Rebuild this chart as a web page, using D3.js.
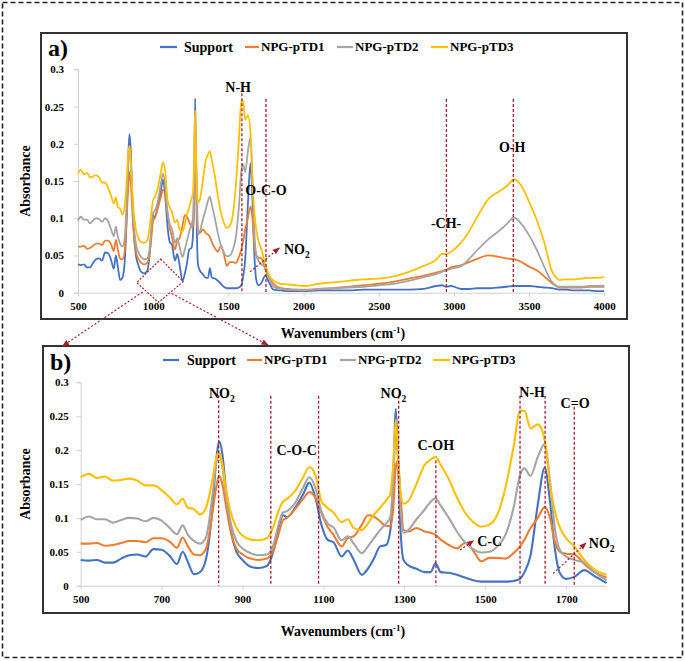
<!DOCTYPE html>
<html><head><meta charset="utf-8">
<script src="https://cdn.jsdelivr.net/npm/d3@7"></script>
<style>
body{margin:0;background:#fff}
text{font-family:"Liberation Serif","Times New Roman",serif;font-weight:bold;fill:#000}
</style>
</head><body>
<svg id="chart" width="685" height="661"></svg>
<script>
// ---------------- DATA ----------------
const wavenumbers=[500,520,540,560,580,600,620,640,660,680,700,720,738,752,765,780,795,810,825,835,842,850,860,870,885,900,920,940,960,975,990,1000,1010,1030,1050,1065,1080,1095,1110,1125,1145,1160,1175,1195,1210,1225,1240,1255,1265,1272,1279,1284,1290,1298,1310,1330,1350,1365,1377,1390,1410,1430,1450,1470,1490,1510,1530,1550,1570,1586,1597,1612,1630,1647,1660,1672,1685,1700,1720,1745,1770,1800,1850,1900,1950,2000,2100,2200,2300,2400,2500,2600,2700,2800,2880,2920,2950,2980,3050,3100,3150,3230,3300,3350,3400,3450,3500,3550,3600,3650,3680,3700,3750,3800,3850,3900,3950,4000];
const support=[0.038,0.037,0.038,0.034,0.034,0.040,0.045,0.046,0.043,0.054,0.053,0.044,0.032,0.050,0.035,0.017,0.020,0.040,0.110,0.185,0.213,0.195,0.135,0.085,0.050,0.038,0.028,0.026,0.029,0.048,0.088,0.104,0.101,0.115,0.135,0.152,0.130,0.090,0.068,0.064,0.043,0.052,0.038,0.016,0.025,0.040,0.058,0.060,0.080,0.140,0.261,0.190,0.090,0.038,0.030,0.025,0.020,0.020,0.033,0.020,0.019,0.016,0.012,0.008,0.006,0.006,0.006,0.006,0.007,0.010,0.020,0.045,0.120,0.174,0.125,0.055,0.018,0.010,0.013,0.023,0.014,0.004,0.003,0.002,0.002,0.002,0.003,0.003,0.003,0.004,0.004,0.004,0.004,0.005,0.009,0.010,0.008,0.009,0.005,0.005,0.006,0.006,0.007,0.008,0.009,0.009,0.009,0.008,0.007,0.006,0.005,0.004,0.004,0.003,0.003,0.003,0.002,0.002];
const npgPTD1=[0.062,0.062,0.063,0.059,0.060,0.063,0.066,0.066,0.064,0.070,0.070,0.065,0.056,0.071,0.058,0.046,0.045,0.055,0.105,0.145,0.162,0.150,0.115,0.082,0.055,0.046,0.040,0.038,0.040,0.050,0.078,0.097,0.100,0.113,0.128,0.138,0.130,0.107,0.087,0.075,0.058,0.070,0.073,0.090,0.104,0.102,0.095,0.088,0.088,0.110,0.175,0.185,0.140,0.082,0.080,0.085,0.080,0.078,0.075,0.068,0.060,0.055,0.063,0.052,0.036,0.041,0.041,0.040,0.048,0.058,0.068,0.085,0.100,0.116,0.100,0.065,0.050,0.047,0.046,0.032,0.020,0.012,0.006,0.005,0.004,0.004,0.005,0.006,0.008,0.010,0.012,0.015,0.019,0.023,0.027,0.029,0.031,0.034,0.037,0.041,0.045,0.050,0.048,0.046,0.045,0.041,0.035,0.030,0.022,0.013,0.009,0.007,0.007,0.007,0.007,0.008,0.008,0.008];
const npgPTD2=[0.097,0.102,0.098,0.098,0.093,0.097,0.100,0.099,0.095,0.100,0.096,0.085,0.076,0.089,0.075,0.066,0.062,0.072,0.130,0.180,0.195,0.175,0.130,0.095,0.066,0.055,0.048,0.045,0.046,0.058,0.092,0.108,0.110,0.122,0.145,0.160,0.145,0.110,0.092,0.086,0.067,0.073,0.062,0.048,0.058,0.070,0.082,0.092,0.100,0.150,0.235,0.200,0.120,0.078,0.082,0.098,0.112,0.124,0.129,0.118,0.100,0.080,0.064,0.054,0.049,0.050,0.058,0.075,0.115,0.163,0.173,0.162,0.190,0.209,0.155,0.085,0.052,0.043,0.038,0.034,0.020,0.008,0.005,0.004,0.004,0.003,0.005,0.006,0.007,0.008,0.010,0.012,0.016,0.021,0.025,0.028,0.030,0.032,0.036,0.045,0.056,0.072,0.083,0.092,0.101,0.092,0.077,0.058,0.035,0.015,0.009,0.008,0.008,0.008,0.008,0.009,0.009,0.009];
const npgPTD3=[0.160,0.165,0.159,0.161,0.155,0.156,0.158,0.155,0.148,0.148,0.141,0.130,0.120,0.128,0.115,0.113,0.105,0.115,0.155,0.188,0.197,0.180,0.140,0.110,0.085,0.074,0.068,0.067,0.070,0.085,0.112,0.124,0.128,0.140,0.160,0.175,0.163,0.125,0.115,0.108,0.094,0.098,0.085,0.082,0.092,0.105,0.115,0.126,0.135,0.175,0.245,0.190,0.140,0.121,0.125,0.150,0.178,0.186,0.190,0.178,0.157,0.130,0.108,0.094,0.087,0.090,0.105,0.145,0.205,0.258,0.258,0.232,0.238,0.215,0.150,0.110,0.085,0.070,0.058,0.038,0.024,0.016,0.012,0.011,0.010,0.009,0.012,0.014,0.016,0.018,0.019,0.022,0.028,0.036,0.044,0.052,0.052,0.055,0.068,0.082,0.100,0.126,0.136,0.143,0.152,0.143,0.122,0.098,0.068,0.030,0.020,0.017,0.018,0.018,0.019,0.020,0.020,0.021];

const seriesNames=["Support","NPG-pTD1","NPG-pTD2","NPG-pTD3"];
const seriesValues=[support,npgPTD1,npgPTD2,npgPTD3];
const seriesColors=["#4472C4","#ED7D31","#A5A5A5","#FFC000"];

const yTicks=[0,0.05,0.1,0.15,0.2,0.25,0.3];
const yTickLabels=["0","0.05","0.1","0.15","0.2","0.25","0.3"];
const xTicksA=[500,1000,1500,2000,2500,3000,3500,4000];
const xTicksB=[500,700,900,1100,1300,1500,1700];

// reference lines (wavenumber, top absorbance)
const refLinesA=[[1590,0.268],[1750,0.26],[2950,0.26],[3395,0.26]];
const refLinesB=[[841,0.281],[970,0.28],[1088,0.28],[1286,0.28],[1378,0.185],[1586,0.28],[1648,0.28],[1720,0.264]];
// labels (text, wavenumber, absorbance, anchor)
const labelsA=[["N-H",1565,0.276,"middle"],["O-C-O",1750,0.138,"middle"],["-CH-",2948,0.093,"middle"],["O-H",3387,0.196,"middle"],["NO2",1870,0.059,"start"]];
const labelsB=[["NO2",849,0.284,"middle"],["C-O-C",1034,0.200,"middle"],["NO2",1273,0.284,"middle"],["C-OH",1378,0.2075,"middle"],["N-H",1616,0.286,"middle"],["C=O",1722,0.270,"middle"],["C-C",1480,0.066,"start"],["NO2",1756,0.063,"start"]];
const arrowsA=[[1644,0.028,1839,0.060]];
const arrowsB=[[1438,0.0527,1471,0.0664],[1668,0.018,1749,0.063]];
// zoom window drawn on panel a (wavenumber, absorbance)
const zoomDiamond=[[1050,0.045],[1200,0.015],[1035,-0.013],[890,0.0135]];

// ---------------- DRAW ----------------
const svg=d3.select("#chart");
const red="#a3202b";
const defs=svg.append("defs");
defs.append("marker").attr("id","ah").attr("viewBox","0 0 10 10").attr("refX",9).attr("refY",5)
  .attr("markerWidth",6).attr("markerHeight",6).attr("orient","auto")
  .append("path").attr("d","M0,1 L10,5 L0,9 z").attr("fill",red);

svg.append("rect").attr("x",2.5).attr("y",2.5).attr("width",680).attr("height",655)
  .attr("fill","none").attr("stroke","#222").attr("stroke-width",1.6).attr("stroke-dasharray","5,3");

function addNO2(sel,size){
  sel.text("NO");
  sel.append("tspan").attr("font-size",size*0.68).attr("dy",4).text("2");
}

function panel(cfg){
  const g=svg.append("g");
  g.append("rect").attr("x",cfg.box[0]).attr("y",cfg.box[1]).attr("width",cfg.box[2]-cfg.box[0]).attr("height",cfg.box[3]-cfg.box[1])
    .attr("fill","#fff").attr("stroke","#333").attr("stroke-width",2);
  const x=d3.scaleLinear().domain(cfg.xDomain).range(cfg.xRange);
  const y=d3.scaleLinear().domain([0,0.3]).range(cfg.yRange);

  // y axis
  const ya=g.append("g").attr("transform",`translate(${cfg.xRange[0]},0)`)
    .call(d3.axisLeft(y).tickValues(yTicks).tickFormat((d,i)=>yTickLabels[i]).tickSize(4).tickPadding(cfg.yPad));
  ya.select(".domain").attr("stroke","#d0d0d0");
  ya.selectAll(".tick line").attr("stroke","#d0d0d0");
  ya.selectAll("text").attr("font-size",11).attr("font-family","Liberation Serif").attr("font-weight","bold");
  // x axis
  const xa=g.append("g").attr("transform",`translate(0,${y(0)})`)
    .call(d3.axisBottom(x).tickValues(cfg.xTicks).tickFormat(d3.format("d")).tickSize(4).tickPadding(6).tickSizeOuter(0));
  xa.select(".domain").attr("stroke","#d0d0d0");
  xa.selectAll(".tick line").attr("stroke","#d0d0d0");
  xa.selectAll("text").attr("font-size",11).attr("font-family","Liberation Serif").attr("font-weight","bold");

  // series
  const pts=wavenumbers.map((w,i)=>i).filter(i=>wavenumbers[i]>=cfg.xDomain[0]&&wavenumbers[i]<=cfg.xDomain[1]);
  seriesValues.forEach((vals,s)=>{
    const line=d3.line().x(i=>x(wavenumbers[i])).y(i=>y(vals[i])).curve(d3.curveMonotoneX);
    g.append("path").attr("d",line(pts)).attr("fill","none").attr("stroke",seriesColors[s])
      .attr("stroke-width",cfg.lw).attr("stroke-linejoin","round");
  });

  // reference lines
  cfg.refLines.forEach(([w,t])=>{
    g.append("line").attr("x1",x(w)).attr("x2",x(w)).attr("y1",y(t)).attr("y2",y(0))
      .attr("stroke",red).attr("stroke-width",1.3).attr("stroke-dasharray","3,2");
  });
  cfg.arrows.forEach(([w1,v1,w2,v2])=>{
    g.append("line").attr("x1",x(w1)).attr("y1",y(v1)).attr("x2",x(w2)).attr("y2",y(v2))
      .attr("stroke",red).attr("stroke-width",1.2).attr("stroke-dasharray","2,2").attr("marker-end","url(#ah)");
  });
  cfg.labels.forEach(([t,w,v,a])=>{
    const tx=g.append("text").attr("x",x(w)).attr("y",y(v)).attr("dy","0.35em").attr("text-anchor",a).attr("font-size",14);
    if(t==="NO2") addNO2(tx,14); else tx.text(t);
  });

  // legend
  cfg.legend.forEach(([x1,x2,tx],s)=>{
    g.append("line").attr("x1",x1).attr("x2",x2).attr("y1",cfg.legendY).attr("y2",cfg.legendY)
      .attr("stroke",seriesColors[s]).attr("stroke-width",2.2);
    g.append("text").attr("x",tx).attr("y",cfg.legendY).attr("dy","0.33em").attr("font-size",s===0?14:13).text(seriesNames[s]);
  });
  // panel letter
  g.append("text").attr("x",cfg.box[0]+7).attr("y",cfg.letterY).attr("font-size",24).text(cfg.letter);
  // axis titles
  g.append("text").attr("transform",`translate(${cfg.yTitleX},${(cfg.yRange[0]+cfg.yRange[1])/2}) rotate(-90)`)
    .attr("text-anchor","middle").attr("dy","0.35em").attr("font-size",14).text("Absorbance");
  const xt=g.append("text").attr("x",cfg.xTitleX).attr("y",cfg.xTitleY).attr("text-anchor","middle").attr("font-size",14);
  xt.append("tspan").text("Wavenumbers (cm");
  xt.append("tspan").attr("font-size",9).attr("dy",-5).text("-1");
  xt.append("tspan").attr("dy",5).text(")");
  return {x,y};
}

const A=panel({box:[41,33,627,319],xDomain:[500,4000],xRange:[78,604.3],yRange:[292.7,69.3],xTicks:xTicksA,yPad:10,lw:1.8,
  refLines:refLinesA,labels:labelsA,arrows:arrowsA,legendY:47,
  legend:[[160,177,184],[245,259,261],[337,353,355],[431,448,450]],letter:"a)",letterY:56,yTitleX:25,xTitleX:343,xTitleY:338});
const B=panel({box:[43,346,629,613],xDomain:[500,1800],xRange:[80.7,606.6],yRange:[585.7,382.3],xTicks:xTicksB,yPad:8,lw:2.1,
  refLines:refLinesB,labels:labelsB,arrows:arrowsB,legendY:360,
  legend:[[163,179,187],[247,262,264],[340,356,358],[433,450,452]],letter:"b)",letterY:370,yTitleX:25,xTitleX:343,xTitleY:636});

// zoom window on panel a and connectors to panel b
const dline=d3.line().x(d=>A.x(d[0])).y(d=>A.y(d[1]));
svg.append("path").attr("d",dline(zoomDiamond)+"Z").attr("fill","none").attr("stroke",red).attr("stroke-width",1.2).attr("stroke-dasharray","2,1.5");
svg.append("line").attr("x1",A.x(930)).attr("y1",A.y(0.001)).attr("x2",B.x(455)).attr("y2",346)
  .attr("stroke",red).attr("stroke-width",1.2).attr("stroke-dasharray","2,2").attr("marker-end","url(#ah)");
svg.append("line").attr("x1",A.x(1123)).attr("y1",A.y(-0.001)).attr("x2",B.x(963)).attr("y2",345)
  .attr("stroke",red).attr("stroke-width",1.2).attr("stroke-dasharray","2,2").attr("marker-end","url(#ah)");
</script>
</body></html>
